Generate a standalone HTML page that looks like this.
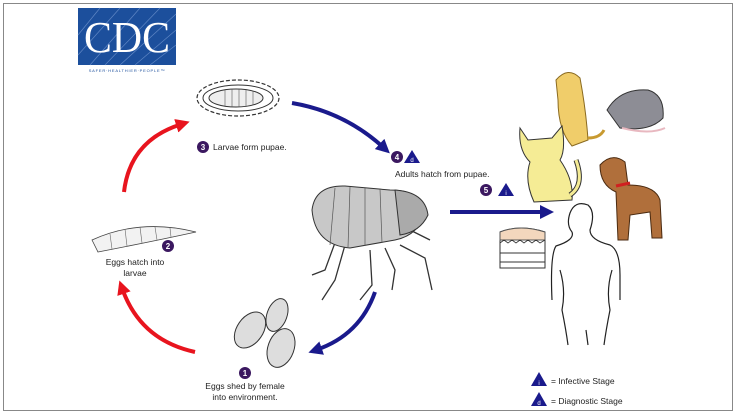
<!DOCTYPE html>
<html><head><meta charset="utf-8"><style>
html,body{margin:0;padding:0;background:#fff}
svg{display:block}
</style></head><body>
<svg width="736" height="414" viewBox="0 0 736 414" xmlns="http://www.w3.org/2000/svg" font-family="Liberation Sans, sans-serif">
<defs>
<marker id="ab" markerWidth="3.5" markerHeight="3.5" refX="1.5" refY="1.75" orient="auto" markerUnits="strokeWidth"><path d="M0,0 L3.5,1.75 L0,3.5 Z" fill="#1a1a8c"/></marker>
<marker id="ar" markerWidth="3.5" markerHeight="3.5" refX="1.5" refY="1.75" orient="auto" markerUnits="strokeWidth"><path d="M0,0 L3.5,1.75 L0,3.5 Z" fill="#e8141e"/></marker>
</defs>
<rect x="3.5" y="3.5" width="729" height="407" fill="#fff" stroke="#888" stroke-width="1"/>
<!-- CDC logo -->
<rect x="78" y="8" width="98" height="57" fill="#1c4f9c"/>
<g stroke="#5f86c4" stroke-width="0.7">
<line x1="90" y1="65" x2="140" y2="8"/><line x1="105" y1="65" x2="160" y2="8"/><line x1="120" y1="65" x2="176" y2="14"/><line x1="135" y1="65" x2="176" y2="30"/><line x1="150" y1="65" x2="176" y2="45"/><line x1="78" y1="55" x2="120" y2="8"/><line x1="78" y1="35" x2="100" y2="8"/>
</g>
<text x="127" y="52" style="font-family:'Liberation Serif',serif" font-size="44" fill="#fff" text-anchor="middle" textLength="86" lengthAdjust="spacingAndGlyphs">CDC</text>
<text x="127" y="72" font-size="4" fill="#1c4f9c" text-anchor="middle" letter-spacing="0.8">SAFER·HEALTHIER·PEOPLE™</text>
<!-- pupa -->
<ellipse cx="238" cy="98" rx="41" ry="18" fill="#fff" stroke="#333" stroke-width="1.2" stroke-dasharray="4 2"/>
<ellipse cx="238" cy="98" rx="35" ry="13" fill="#fff" stroke="#333"/>
<ellipse cx="236" cy="98" rx="27" ry="9" fill="#eee" stroke="#333"/>
<g stroke="#555" stroke-width="0.6"><line x1="225" y1="90" x2="225" y2="106"/><line x1="232" y1="89" x2="232" y2="107"/><line x1="239" y1="89" x2="239" y2="107"/><line x1="246" y1="90" x2="246" y2="106"/><line x1="253" y1="91" x2="253" y2="105"/></g>
<!-- arrows -->
<path d="M292,103 Q345,112 384,148" fill="none" stroke="#1a1a8c" stroke-width="4" marker-end="url(#ab)"/>
<path d="M450,212 L546,212" fill="none" stroke="#1a1a8c" stroke-width="4" marker-end="url(#ab)"/>
<path d="M375,292 Q360,335 316,350" fill="none" stroke="#1a1a8c" stroke-width="4" marker-end="url(#ab)"/>
<path d="M195,352 Q140,340 122,288" fill="none" stroke="#e8141e" stroke-width="4" marker-end="url(#ar)"/>
<path d="M124,192 Q130,140 182,124" fill="none" stroke="#e8141e" stroke-width="4" marker-end="url(#ar)"/>
<!-- labels -->
<circle cx="203" cy="147" r="6" fill="#3b1860"/><text x="203" y="150" font-size="8" font-weight="bold" fill="#fff" text-anchor="middle">3</text>
<text x="213" y="150" font-size="8.5" fill="#222">Larvae form pupae.</text>
<circle cx="397" cy="157" r="6" fill="#3b1860"/><text x="397" y="160" font-size="8" font-weight="bold" fill="#fff" text-anchor="middle">4</text>
<path d="M412,150 L420,163 L404,163 Z" fill="#1a1a8c"/><text x="412" y="162" font-size="6" fill="#fff" text-anchor="middle">d</text>
<text x="395" y="177" font-size="8.5" fill="#222">Adults hatch from pupae.</text>
<circle cx="486" cy="190" r="6" fill="#3b1860"/><text x="486" y="193" font-size="8" font-weight="bold" fill="#fff" text-anchor="middle">5</text>
<path d="M506,183 L514,196 L498,196 Z" fill="#1a1a8c"/><text x="506" y="195" font-size="6" fill="#fff" text-anchor="middle">i</text>
<circle cx="168" cy="246" r="6" fill="#3b1860"/><text x="168" y="249" font-size="8" font-weight="bold" fill="#fff" text-anchor="middle">2</text>
<text x="135" y="265" font-size="8.5" fill="#222" text-anchor="middle">Eggs hatch into</text>
<text x="135" y="276" font-size="8.5" fill="#222" text-anchor="middle">larvae</text>
<circle cx="245" cy="373" r="6" fill="#3b1860"/><text x="245" y="376" font-size="8" font-weight="bold" fill="#fff" text-anchor="middle">1</text>
<text x="245" y="389" font-size="8.5" fill="#222" text-anchor="middle">Eggs shed by female</text>
<text x="245" y="400" font-size="8.5" fill="#222" text-anchor="middle">into environment.</text>
<!-- larva -->
<path d="M92,240 Q140,218 196,232 Q150,242 98,252 Z" fill="#f2f2f2" stroke="#444" stroke-width="0.8"/>
<g stroke="#666" stroke-width="0.6"><line x1="110" y1="234" x2="112" y2="249"/><line x1="125" y1="229" x2="127" y2="246"/><line x1="140" y1="227" x2="142" y2="243"/><line x1="155" y1="227" x2="157" y2="240"/><line x1="170" y1="228" x2="171" y2="237"/></g>
<!-- eggs -->
<g fill="#ddd" stroke="#333" stroke-width="1">
<ellipse cx="250" cy="330" rx="13" ry="20" transform="rotate(35 250 330)"/>
<ellipse cx="277" cy="315" rx="10" ry="17" transform="rotate(20 277 315)"/>
<ellipse cx="281" cy="348" rx="13" ry="20" transform="rotate(20 281 348)"/>
</g>
<!-- flea -->
<g stroke="#333" stroke-width="1.3" fill="none">
<path d="M336,240 L325,270 L312,275 M345,245 L335,280 L322,300 M370,250 L372,285 L360,300 M385,248 L395,270 L392,290 M400,245 L425,258 L432,290 M410,230 L430,240"/>
</g>
<path d="M312,210 Q315,185 345,186 L390,190 Q420,190 425,210 Q420,235 395,240 L350,248 Q315,245 312,210 Z" fill="#c8c8c8" stroke="#333"/>
<path d="M395,190 Q425,192 428,215 Q420,232 400,235 Z" fill="#aaa" stroke="#333"/>
<g stroke="#555" stroke-width="0.7"><line x1="335" y1="188" x2="330" y2="245"/><line x1="350" y1="187" x2="348" y2="247"/><line x1="365" y1="188" x2="365" y2="246"/><line x1="380" y1="189" x2="382" y2="243"/></g>
<!-- prairie dog -->
<path d="M556,80 Q568,66 580,78 Q586,110 588,140 L572,146 Q558,130 558,100 Z" fill="#f0cd6a" stroke="#8a6a20"/>
<path d="M588,138 Q600,138 604,130" fill="none" stroke="#c89a30" stroke-width="3"/>
<!-- rat -->
<path d="M607,110 Q620,88 648,90 Q665,95 663,118 Q650,132 620,128 Z" fill="#8d8d95" stroke="#333"/>
<path d="M622,128 Q650,135 665,128" fill="none" stroke="#e8b8c0" stroke-width="2"/>
<!-- cat -->
<path d="M520,128 L528,140 L552,138 L562,126 Q566,150 560,160 Q574,180 572,200 L534,202 Q524,180 530,162 Q518,150 520,128 Z" fill="#f5ec95" stroke="#333"/>
<path d="M570,195 Q585,185 576,160" fill="none" stroke="#333" stroke-width="5"/><path d="M570,195 Q585,185 576,160" fill="none" stroke="#f5ec95" stroke-width="3"/>
<!-- dog -->
<path d="M600,165 Q612,152 625,162 L628,185 Q655,185 660,200 L662,238 L652,238 L650,212 L630,215 L628,240 L618,240 L616,192 Q600,185 600,165 Z" fill="#b06f3b" stroke="#4a2a10"/>
<path d="M616,186 L630,183" stroke="#d02020" stroke-width="3"/>
<!-- skin block -->
<path d="M500,232 Q520,224 545,232 L545,268 L500,268 Z" fill="#fff" stroke="#333"/>
<path d="M500,232 Q520,224 545,232 L545,240 L500,240 Z" fill="#f3d7bd" stroke="#555"/>
<path d="M500,243 l4,-3 l4,3 l4,-3 l4,3 l4,-3 l4,3 l4,-3 l4,3 l4,-3 l4,3 l5,-3" fill="none" stroke="#333" stroke-width="0.8"/>
<line x1="500" y1="253" x2="545" y2="253" stroke="#333"/><line x1="500" y1="262" x2="545" y2="262" stroke="#333"/>
<!-- human -->
<path d="M572,232 Q566,225 570,213 Q575,200 588,205 Q596,212 590,230 Q590,240 610,245 Q620,250 620,275 L620,300 M572,232 Q575,240 556,246 Q550,255 552,300 M560,270 Q566,290 562,310 Q566,330 568,345 M612,270 Q606,290 610,310 Q606,330 604,345 M586,330 L588,345" fill="none" stroke="#222" stroke-width="1.2"/>
<!-- legend -->
<path d="M539,372 L547,386 L531,386 Z" fill="#1a1a8c"/><text x="539" y="385" font-size="6" fill="#fff" text-anchor="middle">i</text>
<text x="551" y="384" font-size="8.5" fill="#222">= Infective Stage</text>
<path d="M539,392 L547,406 L531,406 Z" fill="#1a1a8c"/><text x="539" y="405" font-size="6" fill="#fff" text-anchor="middle">d</text>
<text x="551" y="404" font-size="8.5" fill="#222">= Diagnostic Stage</text>
</svg>
</body></html>
